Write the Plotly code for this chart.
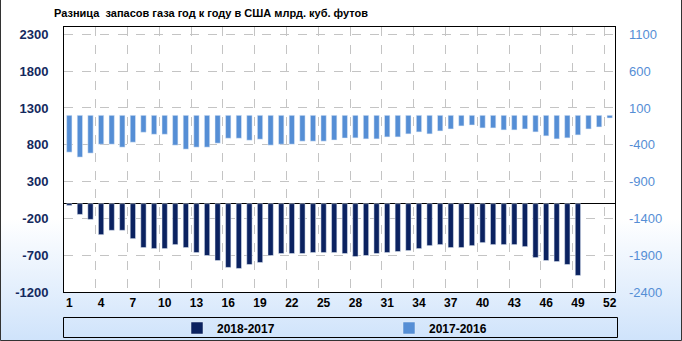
import base64
import plotly.graph_objects as go

weeks = list(range(1, 53))
d2018 = [-25, -146, -214, -421, -362, -362, -475, -596, -610, -610,
         -556, -596, -664, -704, -772, -866, -880, -826, -799, -704,
         -677, -677, -677, -664, -664, -664, -677, -718, -704, -677,
         -664, -650, -637, -610, -570, -556, -596, -596, -570, -529,
         -556, -556, -556, -583, -732, -772, -786, -826, -975, None, None, None]
d2017 = [-500, -567, -513, -392, -392, -432, -365, -230, -257, -257,
         -405, -459, -432, -432, -378, -311, -311, -338, -324, -405,
         -392, -392, -351, -351, -351, -335, -308, -306, -320, -320,
         -293, -293, -252, -225, -252, -212, -185, -144, -131, -171,
         -171, -198, -198, -185, -225, -279, -320, -306, -266, -185, -158, -36]
x_ticks = list(range(1, 53, 3))
left_ticks = [-1200, -700, -200, 300, 800, 1300, 1800, 2300]
right_ticks = [-2400, -1900, -1400, -900, -400, 100, 600, 1100]
title = "Разница  запасов газа год к году в США млрд. куб. футов"
name1 = "2018-2017"
name2 = "2017-2016"

DARK = "#0b2260"
LIGHT = "#558ed5"
FONT = "Liberation Sans"

W, H = 682, 341
ml, mr, mt, mb = 64, 67, 27, 49
pw, ph = W - ml - mr, H - mt - mb

def px_x(p):
    return (p - ml) / pw

def px_y(p):
    return 1 - (p - mt) / ph

svg = ('<svg xmlns="http://www.w3.org/2000/svg" width="682" height="341">'
       '<defs><linearGradient id="g" x1="0" y1="0" x2="0" y2="1">'
       '<stop offset="0" stop-color="#ffffff"/><stop offset="0.64" stop-color="#ffffff"/>'
       '<stop offset="1" stop-color="#cfe3fb"/></linearGradient></defs>'
       '<rect width="682" height="341" fill="url(#g)"/></svg>')
uri = "data:image/svg+xml;base64," + base64.b64encode(svg.encode()).decode()

fig = go.Figure()
fig.add_trace(go.Bar(x=weeks, y=d2018, name=name1, marker_color=DARK, width=0.5, yaxis="y"))
fig.add_trace(go.Bar(x=weeks, y=d2017, name=name2, marker_color=LIGHT, width=0.5, yaxis="y2"))

fig.update_layout(
    width=W, height=H,
    margin=dict(l=ml, r=mr, t=mt, b=mb, pad=0, autoexpand=False),
    paper_bgcolor="rgba(0,0,0,0)",
    plot_bgcolor="white",
    font=dict(family=FONT, size=12, color="black"),
    barmode="overlay",
    showlegend=True,
    legend=dict(orientation="h", x=px_x(177), xanchor="left", y=px_y(328), yanchor="middle",
                bgcolor="rgba(0,0,0,0)", borderwidth=0, entrywidth=167, entrywidthmode="pixels",
                font=dict(family=FONT, size=12, color="black", weight="bold"), traceorder="normal"),
    xaxis=dict(range=[0.5, 52.5], tickmode="array", tickvals=x_ticks, ticks="", showgrid=False,
               showline=True, linecolor="black", linewidth=1, mirror=True,
               tickfont=dict(family=FONT, size=12, color="black", weight="bold"),
               minor=dict(tickmode="array", tickvals=[i + 0.5 for i in range(3, 52, 3)],
                          showgrid=True, gridcolor="#c4c4c4", griddash="dash", gridwidth=1, ticks=""),
               zeroline=False),
    yaxis=dict(range=[-1200, 2400], tickmode="array", tickvals=left_ticks,
               ticktext=[str(v) for v in left_ticks], showgrid=True,
               gridcolor="#c4c4c4", griddash="dash", gridwidth=1,
               zeroline=True, zerolinecolor="black", zerolinewidth=1,
               showline=True, linecolor="black", linewidth=1, mirror=True, ticks="",
               ticklabelstandoff=12,
               tickfont=dict(family=FONT, size=13, color="#13295e", weight="bold")),
    yaxis2=dict(range=[-2400, 1200], tickmode="array", tickvals=right_ticks,
                ticktext=[str(v) for v in right_ticks], overlaying="y",
                side="right", showgrid=False, zeroline=False, showline=False, ticks="",
                ticklabelstandoff=13,
                tickfont=dict(family=FONT, size=13, color=LIGHT)),
    images=[dict(source=uri, xref="paper", yref="paper", x=px_x(0), y=px_y(0),
                 sizex=W / pw, sizey=H / ph, sizing="stretch", xanchor="left", yanchor="top",
                 layer="below")],
    shapes=[
        dict(type="rect", xref="paper", yref="paper", x0=0, x1=1, y0=0, y1=1,
             fillcolor="white", line_width=0, layer="below"),
        dict(type="rect", xref="paper", yref="paper", x0=px_x(63.5), x1=px_x(617.5),
             y0=px_y(337.5), y1=px_y(317.5), line=dict(color="black", width=1)),
        dict(type="path", xref="paper", yref="paper",
             path=f"M {px_x(0.5)} {px_y(0)} L {px_x(0.5)} {px_y(340.5)} L {px_x(681.5)} {px_y(340.5)} L {px_x(681.5)} {px_y(0)}",
             line=dict(color="#333333", width=1)),
    ],
    annotations=[dict(text=title, xref="paper", yref="paper", x=px_x(52), y=px_y(13),
                      xanchor="left", yanchor="middle", showarrow=False,
                      font=dict(family=FONT, size=11, color="black", weight="bold"))],
)

fig.write_html("out.html")
